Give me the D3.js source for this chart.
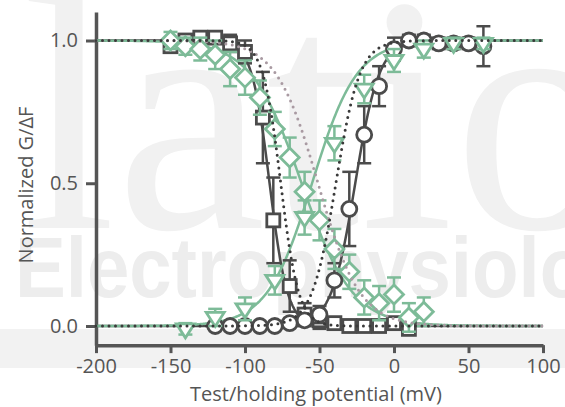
<!DOCTYPE html>
<html>
<head>
<meta charset="utf-8">
<script src="https://cdn.jsdelivr.net/npm/d3@7"></script>
<style>
  html, body { margin: 0; padding: 0; background: #fff; }
  svg { display: block; }
  text { font-family: "Open Sans", "Noto Sans", sans-serif; }
</style>
</head>
<body>
<svg id="chart" width="565" height="407"></svg>
<script>
// Normalized conductance (G) and fluorescence (ΔF) versus test/holding potential.

// Activation / inactivation data (mean ± error), potentials in mV
const voltsSquare = [-150, -140, -130, -120, -110, -100, -88, -81, -70, -60, -50, -40, -30, -20, -10, 0, 10];
const valsSquare  = [0.98, 1.0, 1.01, 1.01, 0.99, 0.96, 0.73, 0.37, 0.14, 0.04, 0.02, 0.01, 0.0, 0.0, 0.0, 0.01, -0.01];
const errSquare   = [0.02, 0.02, 0.02, 0.02, 0.03, 0.04, 0.16, 0.15, 0.09, 0.04, 0.03, 0.02, 0.02, 0.02, 0.02, 0.02, 0.02];

const voltsCircle = [-120, -110, -100, -90, -80, -70, -60, -50, -40, -30, -20, -10, 0, 10, 20, 30, 40, 50, 60];
const valsCircle  = [0.0, 0.0, 0.0, 0.0, 0.0, 0.01, 0.02, 0.04, 0.16, 0.41, 0.67, 0.84, 0.97, 1.0, 1.0, 0.99, 0.99, 0.99, 0.98];
const errCircle   = [0.01, 0.01, 0.01, 0.01, 0.01, 0.01, 0.02, 0.03, 0.06, 0.13, 0.10, 0.07, 0.04, 0.02, 0.02, 0.02, 0.02, 0.02, 0.07];

const voltsDiamond = [-150, -140, -130, -120, -110, -100, -90, -80, -70, -60, -50, -40, -30, -20, -10, 0, 10, 20];
const valsDiamond  = [1.0, 0.98, 0.97, 0.95, 0.90, 0.87, 0.80, 0.69, 0.59, 0.47, 0.37, 0.27, 0.19, 0.10, 0.08, 0.11, 0.03, 0.05];
const errDiamond   = [0.03, 0.03, 0.04, 0.05, 0.06, 0.06, 0.06, 0.06, 0.07, 0.07, 0.07, 0.07, 0.06, 0.06, 0.06, 0.06, 0.05, 0.05];

const voltsTriangle = [-140, -120, -100, -80, -60, -40, -20, 0, 20, 40, 60];
const valsTriangle  = [-0.01, 0.03, 0.06, 0.16, 0.38, 0.64, 0.83, 0.93, 0.97, 0.99, 0.99];
const errTriangle   = [0.02, 0.03, 0.04, 0.05, 0.06, 0.06, 0.05, 0.04, 0.03, 0.02, 0.02];

// Boltzmann fits: [V1/2 (mV), slope k (mV), direction (+1 rising, -1 falling)]
const fitSquare    = [-83.5, 6, -1];
const fitCircle    = [-26, 8, 1];
const fitDiamond   = [-62, 17, -1];
const fitTriangle  = [-55, 15, 1];
const refDarkFall  = [-76, 6, -1];
const refDarkRise  = [-39, 8, 1];
const refLightFall = [-51, 14, -1];

const xTicks = [-200, -150, -100, -50, 0, 50, 100];
const yTicks = [0.0, 0.5, 1.0];

const DARK = "#4b4b4b";
const GREEN = "#7dbb98";
const AXIS = "#555555";

const svg = d3.select("#chart");

const x = d3.scaleLinear().domain([-200, 100]).range([96, 543]);
const y = d3.scaleLinear().domain([0, 1]).range([326, 40.5]);

// --- background watermark ---
const bg = svg.append("g");
bg.append("rect").attr("x", 0).attr("y", 329).attr("width", 565).attr("height", 39).attr("fill", "#f2f2f2");
bg.append("text").attr("x", 22).attr("y", 228)
  .style("font-family", "'Liberation Serif', serif").style("font-size", "338px")
  .attr("fill", "#f1f1f1").text("latio");
bg.append("text").attr("x", 15).attr("y", 297)
  .attr("textLength", 660).attr("lengthAdjust", "spacingAndGlyphs")
  .style("font-family", "'Liberation Sans', sans-serif").style("font-weight", "bold").style("font-size", "86px")
  .attr("fill", "#ededed").text("Electrophysiology");

// --- axes ---
const yAxisScale = y.copy().domain([-0.067, 1.1]).range([y(-0.067), y(1.1)]);
const yAxis = svg.append("g").attr("transform", `translate(${x(-200)},0)`)
  .call(d3.axisLeft(yAxisScale).tickValues(yTicks).tickFormat(d3.format(".1f")).tickSize(10).tickSizeOuter(0).tickPadding(8));
const xAxis = svg.append("g").attr("transform", `translate(0,${y(-0.067)})`)
  .call(d3.axisBottom(x).tickValues(xTicks).tickFormat(d => d3.format("d")(d).replace("−", "-")).tickSize(8).tickSizeOuter(0).tickPadding(6));

[xAxis, yAxis].forEach(g => {
  g.select(".domain").attr("stroke", AXIS).attr("stroke-width", 3.5);
  g.selectAll(".tick line").attr("stroke", AXIS).attr("stroke-width", 3);
  g.selectAll(".tick text").attr("fill", AXIS).style("font-size", "20px")
    .style("font-family", "'Open Sans', sans-serif");
});

svg.append("text").attr("x", 316).attr("y", 401).attr("text-anchor", "middle")
  .attr("fill", AXIS).style("font-size", "20px").text("Test/holding potential (mV)");
svg.append("text").attr("transform", "translate(33,185) rotate(-90)").attr("text-anchor", "middle")
  .attr("fill", AXIS).style("font-size", "20px").text("Normalized G/ΔF");

// --- fit curves ---
const vGrid = d3.range(-200, 100.5, 0.5);
const boltz = (p) => vGrid.map(v => [v, p[2] > 0 ? 1 / (1 + Math.exp((p[0] - v) / p[1])) : 1 / (1 + Math.exp((v - p[0]) / p[1]))]);
const line = d3.line().x(d => x(d[0])).y(d => y(d[1]));

const plot = svg.append("g");
function fitLine(p, color, width, dash) {
  const path = plot.append("path").attr("d", line(boltz(p))).attr("fill", "none")
    .attr("stroke", color).attr("stroke-width", width);
  if (dash) path.attr("stroke-dasharray", dash).attr("stroke-linecap", "round");
  return path;
}
fitLine(fitSquare, DARK, 2.5);
fitLine(fitCircle, DARK, 2.5);
fitLine(fitDiamond, GREEN, 2.5);
fitLine(fitTriangle, GREEN, 2.5);

// --- markers with error bars ---
function zip(vs, gs, es) { return vs.map((v, i) => ({ v, g: gs[i], e: es[i] })); }

function errorBars(data, color) {
  const g = plot.append("g").attr("stroke", color).attr("stroke-width", 2.5);
  data.forEach(d => {
    const cx = x(d.v), y1 = y(d.g + d.e), y2 = y(d.g - d.e);
    g.append("line").attr("x1", cx).attr("x2", cx).attr("y1", y1).attr("y2", y2);
    g.append("line").attr("x1", cx - 7).attr("x2", cx + 7).attr("y1", y1).attr("y2", y1);
    g.append("line").attr("x1", cx - 7).attr("x2", cx + 7).attr("y1", y2).attr("y2", y2);
  });
}

function markers(data, color, shape) {
  const g = plot.append("g").attr("stroke", color).attr("stroke-width", 2.8).attr("fill", "#fff");
  data.forEach(d => {
    const cx = x(d.v), cy = y(d.g);
    if (shape === "square") {
      g.append("rect").attr("x", cx - 6.5).attr("y", cy - 6.5).attr("width", 13).attr("height", 13);
    } else if (shape === "circle") {
      g.append("circle").attr("cx", cx).attr("cy", cy).attr("r", 7.5);
    } else if (shape === "diamond") {
      g.append("path").attr("d", `M${cx},${cy - 9.5}L${cx + 9.5},${cy}L${cx},${cy + 9.5}L${cx - 9.5},${cy}Z`);
    } else {
      g.append("path").attr("d", `M${cx - 9},${cy - 5}L${cx + 9},${cy - 5}L${cx},${cy + 9}Z`);
    }
  });
}

const squares = zip(voltsSquare, valsSquare, errSquare);
const circles = zip(voltsCircle, valsCircle, errCircle);
const diamonds = zip(voltsDiamond, valsDiamond, errDiamond);
const triangles = zip(voltsTriangle, valsTriangle, errTriangle);

errorBars(squares, DARK);
markers(squares, DARK, "square");
errorBars(circles, DARK);
markers(circles, DARK, "circle");
errorBars(diamonds, GREEN);
markers(diamonds, GREEN, "diamond");
errorBars(triangles, GREEN);
markers(triangles, GREEN, "triangle");

// --- reference (dotted) curves ---
fitLine(refLightFall, "#a99aa2", 3, "0 6.5");
fitLine(refDarkFall, "#3a3a3a", 3, "0 6.5");
fitLine(refDarkRise, "#3a3a3a", 3, "0 6.5");
</script>
</body>
</html>
